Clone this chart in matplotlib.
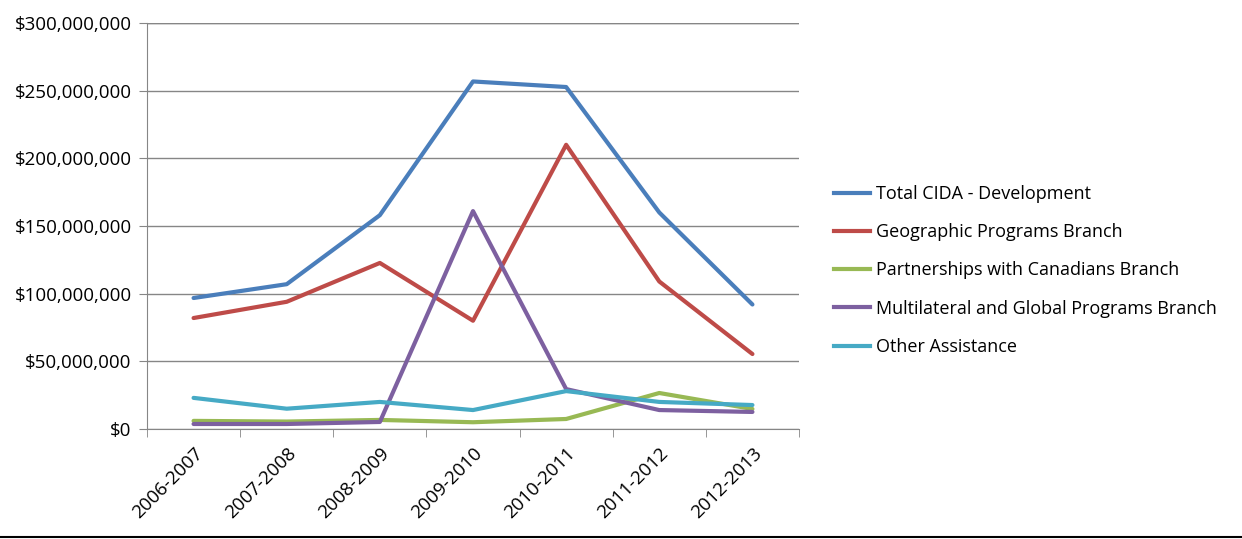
import matplotlib.pyplot as plt
from matplotlib.lines import Line2D
from matplotlib.ticker import FuncFormatter

years = ['2006-2007', '2007-2008', '2008-2009', '2009-2010', '2010-2011', '2011-2012', '2012-2013']
total_cida = [96.8e6, 107e6, 158e6, 256.8e6, 252.7e6, 160e6, 92e6]
geographic = [82e6, 94e6, 122.7e6, 80e6, 210e6, 109e6, 55.4e6]
partnerships = [6e6, 5.5e6, 6.7e6, 5e6, 7.4e6, 26.6e6, 14.8e6]
multilateral = [3.7e6, 3.7e6, 5.2e6, 161e6, 29.5e6, 14e6, 12.6e6]
other = [23e6, 15e6, 20e6, 14e6, 28e6, 20e6, 17.7e6]

names = ['Total CIDA - Development', 'Geographic Programs Branch',
         'Partnerships with Canadians Branch', 'Multilateral and Global Programs Branch',
         'Other Assistance']
colors = ['#4a7ebb', '#be4b48', '#98b954', '#7d60a0', '#46aac5']

plt.rcParams['font.family'] = ['Open Sans', 'DejaVu Sans']

fig = plt.figure(figsize=(12.42, 5.39), dpi=100)
ax = fig.add_axes([147 / 1242, 1 - 429 / 539, 652 / 1242, 406 / 539])

x = range(len(years))
series = [total_cida, geographic, partnerships, multilateral, other]
for vals, c in zip(series, colors):
    ax.plot(x, vals, color=c, lw=3, solid_capstyle='round', solid_joinstyle='round')

ax.set_xlim(-0.5, len(years) - 0.5)
ax.set_ylim(0, 300e6)
ax.set_yticks(range(0, 300000001, 50000000))
ax.yaxis.set_major_formatter(FuncFormatter(lambda v, p: '${:,.0f}'.format(v)))
ax.grid(axis='y', color='#868686', lw=1)
ax.set_axisbelow(True)

ax.set_xticks(x)
ax.set_xticklabels(years, rotation=45, ha='right', rotation_mode='anchor')
ax.set_xticks([i - 0.5 for i in range(len(years) + 1)], minor=True)
ax.tick_params(axis='x', which='major', length=0, labelsize=13.5, pad=11)
ax.tick_params(axis='x', which='minor', length=6, color='#868686', direction='out')
ax.tick_params(axis='y', length=6, color='#868686', labelsize=13.5, pad=5)

ax.spines['top'].set_visible(False)
ax.spines['right'].set_visible(False)
for s in ['left', 'bottom']:
    ax.spines[s].set_color('#868686')
ax.axhline(300e6, color='#868686', lw=1)

handles = [Line2D([], [], color=c, lw=3) for c in colors]
fig.legend(handles, names, loc='upper left', bbox_to_anchor=(834 / 1242, 1 - 185 / 539),
           frameon=False, fontsize=13, handlelength=2.0, handletextpad=0.3,
           labelspacing=1.12, borderaxespad=0, borderpad=0)

fig.add_artist(Line2D([0, 1], [1 - 537 / 539, 1 - 537 / 539], color='black', lw=1.5,
                      transform=fig.transFigure))

fig.savefig('out.png', dpi=100)
